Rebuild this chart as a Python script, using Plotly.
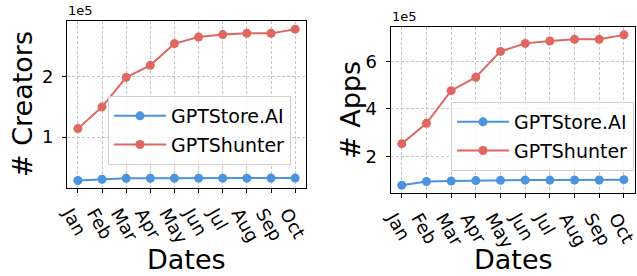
import plotly.graph_objects as go

months = ["Jan", "Feb", "Mar", "Apr", "May", "Jun", "Jul", "Aug", "Sep", "Oct"]

creators_gptstore = [28000, 30000, 31500, 31700, 31800, 31800, 31800, 31800, 31900, 32000]
creators_gptshunter = [114000, 150000, 199000, 219000, 255000, 266000, 270000, 272000, 272000, 279000]

apps_gptstore = [77500, 93000, 95000, 97000, 98000, 99000, 99000, 99500, 99500, 101000]
apps_gptshunter = [253000, 339000, 477000, 534000, 643000, 677000, 687000, 694000, 694000, 713000]

creators_ticks = [100000, 200000]
creators_ticktext = ["1", "2"]
apps_ticks = [200000, 400000, 600000]
apps_ticktext = ["2", "4", "6"]

BLUE = "#4A93DF"
RED = "#E0665F"
FONT = "DejaVu Sans"

fig = go.Figure()

def add_series(x, y, name, color, xa, ya, legend):
    fig.add_trace(go.Scatter(
        x=x, y=y, name=name, mode="lines+markers",
        line=dict(color=color, width=2),
        marker=dict(color=color, size=9),
        xaxis=xa, yaxis=ya, legend=legend, legendgroup=legend + name,
    ))

add_series(months, creators_gptstore, "GPTStore.AI", BLUE, "x", "y", "legend")
add_series(months, creators_gptshunter, "GPTShunter", RED, "x", "y", "legend")
add_series(months, apps_gptstore, "GPTStore.AI", BLUE, "x2", "y2", "legend2")
add_series(months, apps_gptshunter, "GPTShunter", RED, "x2", "y2", "legend2")

axis_common = dict(
    showline=True, linecolor="black", linewidth=1, mirror=True,
    ticks="outside", ticklen=4, tickcolor="black", automargin=False,
    showgrid=True, gridcolor="#c4c4c4", gridwidth=0.8, griddash="3px,2px",
    zeroline=False, tickfont=dict(family=FONT, size=18, color="black"),
)
x_extra = dict(tickangle=60, ticklabelshift=-8, ticklabelstandoff=3)
y_extra = dict(ticklabelstandoff=5)

legend_common = dict(
    xanchor="left", yanchor="top",
    bgcolor="rgba(255,255,255,0.8)", bordercolor="#d0d0d0", borderwidth=1,
    font=dict(family=FONT, size=19, color="black"), tracegroupgap=1,
    itemwidth=52,
)

fig.update_layout(
    width=637, height=276,
    margin=dict(l=0, r=0, t=0, b=0, autoexpand=False),
    paper_bgcolor="white", plot_bgcolor="white",
    font=dict(family=FONT, color="black"),
    xaxis=dict(domain=[0.1052, 0.4804], range=[-0.45, 9.45],
               anchor="y", **axis_common, **x_extra),
    yaxis=dict(domain=[0.3188, 0.9239], range=[15500, 292500],
               tickvals=creators_ticks, ticktext=creators_ticktext,
               anchor="x", **axis_common, **y_extra),
    xaxis2=dict(domain=[0.6133, 0.9969], range=[-0.45, 9.45],
                anchor="y2", **axis_common, **x_extra),
    yaxis2=dict(domain=[0.3018, 0.9011], range=[45700, 745000],
                tickvals=apps_ticks, ticktext=apps_ticktext,
                anchor="x2", **axis_common, **y_extra),
    legend=dict(x=108/637, y=1-96/276, **legend_common),
    legend2=dict(x=451/637, y=1-102/276, **legend_common),
    showlegend=True,
)

def note(text, x, y, size, xanchor="center", yanchor="middle", angle=0):
    fig.add_annotation(text=text, x=x / 637, y=1 - y / 276, textangle=angle,
                       xanchor=xanchor, yanchor=yanchor, xref="paper", yref="paper",
                       showarrow=False, font=dict(family=FONT, size=size, color="black"))

note("# Creators", 22, 104, 27, angle=-90)
note("# Apps", 350, 110, 27, angle=-90)
note("Dates", 186.5, 259, 27)
note("Dates", 513, 259, 27)
note("1e5", 66, 20, 13, xanchor="left", yanchor="bottom")
note("1e5", 390, 26, 13, xanchor="left", yanchor="bottom")

fig.write_html("out.html", config={"displayModeBar": False},
               post_script="document.body.style.margin='0';document.body.style.overflow='hidden';")
